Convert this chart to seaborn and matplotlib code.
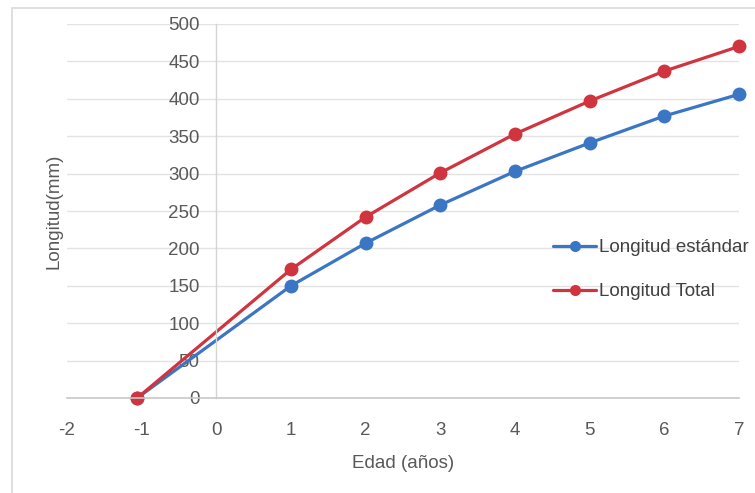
import matplotlib
matplotlib.use("Agg")
import matplotlib.pyplot as plt
from matplotlib.patches import Rectangle
import pandas as pd
import seaborn as sns

# Edad (años) y longitudes medias (mm)
edad = [-1.06, 1, 2, 3, 4, 5, 6, 7]
longitud_estandar = [0, 150, 207, 258, 303, 341, 377, 406]
longitud_total = [0, 172, 242, 301, 353, 397, 437, 470]
series = ["Longitud estándar", "Longitud Total"]
x_ticks = [-2, -1, 0, 1, 2, 3, 4, 5, 6, 7]
y_ticks = [0, 50, 100, 150, 200, 250, 300, 350, 400, 450, 500]

colores = {"Longitud estándar": "#3B76C4", "Longitud Total": "#D0343E"}

df = pd.DataFrame({
    "Edad": edad * 2,
    "Longitud": longitud_estandar + longitud_total,
    "Serie": [series[0]] * len(edad) + [series[1]] * len(edad),
})

sns.set_theme(style="white")
plt.rcParams["font.family"] = ["Liberation Sans", "DejaVu Sans"]
fs = 13.5
plt.rcParams["font.size"] = fs

fig = plt.figure(figsize=(7.55, 4.93), dpi=100)
ax = fig.add_axes([67 / 755, 1 - 398 / 493, (739 - 67) / 755, (398 - 24) / 493])

sns.lineplot(data=df, x="Edad", y="Longitud", hue="Serie", hue_order=series,
             palette=colores, marker="o", markersize=10, markeredgewidth=0,
             linewidth=2.3, ax=ax, legend=False, sort=False)
for ln in ax.lines:
    ln.set_clip_on(False)

ax.set_xlim(-2, 7)
ax.set_ylim(0, 500)
ax.set_xticks(x_ticks)
ax.set_yticks(y_ticks)
ax.set_xticklabels([str(t) for t in x_ticks])
ax.set_yticklabels([str(t) for t in y_ticks])

# horizontal gridlines, vertical axis crossing at x = 0
ax.yaxis.grid(True, color="#E3E3E3", linewidth=1)
ax.xaxis.grid(False)
ax.set_axisbelow(True)
for s in ("top", "right"):
    ax.spines[s].set_visible(False)
ax.spines["left"].set_position(("data", 0))
ax.spines["left"].set_color("#D4D4D4")
ax.spines["left"].set_linewidth(1)
ax.spines["bottom"].set_color("#C8C8C8")
ax.spines["bottom"].set_linewidth(1.2)

ax.tick_params(axis="both", length=0, labelsize=fs, colors="#595959")
ax.tick_params(axis="y", pad=12)
ax.tick_params(axis="x", pad=17)

ax.set_xlabel("Edad (años)", fontsize=fs, color="#595959", labelpad=12)
ax.set_ylabel("Longitud(mm)", fontsize=fs, color="#595959")
ax.yaxis.set_label_coords(-0.006, 0.5)

handles = [plt.Line2D([], [], color=colores[s], marker="o", markersize=8,
                      markeredgewidth=0, linewidth=2.3) for s in series]
leg = ax.legend(handles, series, loc="upper left",
                bbox_to_anchor=(553 / 755, 1 - 239 / 493),
                bbox_transform=fig.transFigure, frameon=False, fontsize=fs,
                handlelength=2.3, handletextpad=0.15, labelspacing=1.45,
                borderpad=0, borderaxespad=0)
for t in leg.get_texts():
    t.set_color("#404040")

# chart area border
fig.patches.append(Rectangle((12 / 755, -0.1), 1.0, (493 - 8) / 493 + 0.1,
                             transform=fig.transFigure, fill=False,
                             edgecolor="#D9D9D9", linewidth=1.2))

fig.savefig("out.png", dpi=100)
